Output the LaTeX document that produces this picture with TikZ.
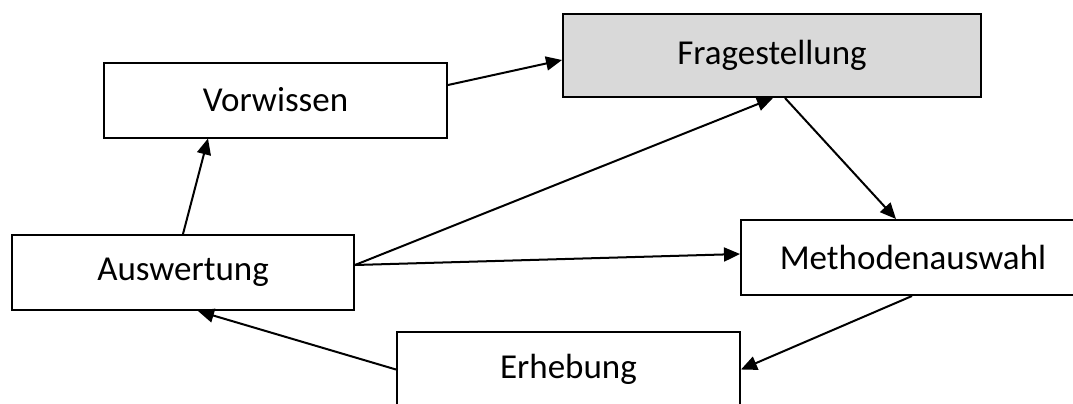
\documentclass[tikz,border=0pt]{standalone}
\usepackage{fontspec}
\setmainfont{Carlito}
\usetikzlibrary{calc,arrows.meta,positioning}
\definecolor{boxgray}{HTML}{D9D9D9}
\tikzset{
  stage/.style={draw=black, line width=1pt, fill=white, minimum height=37.5pt, inner sep=0pt, font=\fontsize{17.5}{21}\selectfont},
  flow/.style={-{Triangle[length=8pt,width=7pt]}, line width=1pt, black}
}

\begin{document}
\begin{tikzpicture}[x=0.5pt,y=-0.5pt]
  \clip (0,0) rectangle (1073,403);
  % stages
  \node[stage, minimum width=171.5pt] (vor) at (275.5,100) {Vorwissen};
  \node[stage, fill=boxgray, minimum width=209pt, minimum height=41.5pt] (fra) at (772,55.5) {Fragestellung};
  \node[stage, minimum width=171pt] (aus) at (183,272.5) {Auswertung};
  \node[stage, minimum width=172pt] (met) at (913,257.5) {Methodenauswahl};
  \node[stage, minimum width=171.5pt] (erh) at (568.5,369.5) {Erhebung};
  % arrows
  \draw[flow] ($(vor.east)+(0,-15)$) -- ($(fra.west)+(0,4.5)$);
  \draw[flow] (aus.north) -- ($(vor.south west)+(105,0)$);
  \draw[flow] ($(aus.east)+(0,-7.5)$) -- ($(fra.south)+(1,0)$);
  \draw[flow] ($(aus.east)+(0,-7.5)$) -- ($(met.west)+(0,-3.5)$);
  \draw[flow] ($(fra.south)+(13,0)$) -- ($(met.north west)+(156,0)$);
  \draw[flow] ($(met.south west)+(172,0)$) -- (erh.east);
  \draw[flow] (erh.west) -- ($(aus.south)+(15,0)$);
\end{tikzpicture}
\end{document}
